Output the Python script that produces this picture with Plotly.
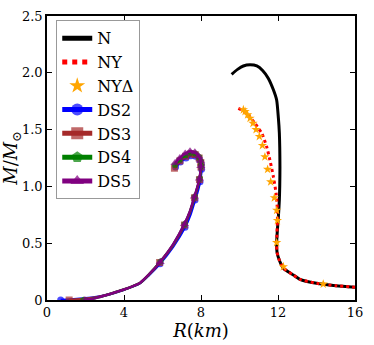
import plotly.graph_objects as go

# N (nucleons)
R_N = [9.59, 9.9, 10.2, 10.55, 10.9, 11.2, 11.5, 11.76, 11.93, 12.02, 12.07, 12.1, 12.09, 12.07, 12.02, 11.97, 11.93, 11.95, 12.07, 12.28, 12.8, 13.14, 14.0, 15.0, 16.0]
M_N = [1.987, 2.03, 2.06, 2.07, 2.06, 2.02, 1.95, 1.85, 1.76, 1.6, 1.47, 1.17, 1.0, 0.88, 0.733, 0.62, 0.5, 0.42, 0.35, 0.28, 0.22, 0.182, 0.147, 0.126, 0.112]

# NY
R_NY = [9.94, 10.2, 10.46, 10.8, 11.15, 11.41, 11.58, 11.76, 11.9, 11.97, 11.97, 11.93, 11.95, 12.07, 12.28, 12.8, 13.14, 14.0, 15.0, 16.0]
M_NY = [1.687, 1.665, 1.63, 1.555, 1.47, 1.35, 1.232, 1.085, 0.94, 0.79, 0.70, 0.5, 0.42, 0.35, 0.28, 0.22, 0.182, 0.147, 0.126, 0.112]

# NY-Delta (markers only)
R_NYD = [10.2, 10.29, 10.42, 10.55, 10.7, 10.86, 11.03, 11.19, 11.32, 11.46, 11.62, 11.81, 11.93, 11.97, 11.93, 12.28, 14.35]
M_NYD = [1.675, 1.66, 1.63, 1.60, 1.555, 1.50, 1.44, 1.36, 1.26, 1.15, 1.04, 0.90, 0.79, 0.70, 0.505, 0.293, 0.14]

# Dark-star sequences
R_DS2 = [0.71, 2.0, 3.0, 3.96, 4.83, 5.3, 5.87, 6.56, 7.17, 7.45, 7.69, 7.85, 7.95, 8.0, 8.03, 8.02, 7.92, 7.72, 7.47, 7.22, 6.92, 6.68]
M_DS2 = [0.0, 0.015, 0.04, 0.088, 0.147, 0.22, 0.32, 0.47, 0.64, 0.75, 0.88, 0.97, 1.04, 1.10, 1.15, 1.19, 1.235, 1.265, 1.27, 1.25, 1.215, 1.17]

R_DS3 = [1.15, 2.0, 3.0, 3.96, 4.83, 5.3, 5.85, 6.54, 7.14, 7.42, 7.66, 7.82, 7.92, 7.97, 8.0, 7.99, 7.9, 7.7, 7.45, 7.2, 6.9, 6.62]
M_DS3 = [0.0, 0.01, 0.04, 0.09, 0.15, 0.225, 0.33, 0.48, 0.66, 0.77, 0.90, 0.99, 1.06, 1.12, 1.17, 1.21, 1.25, 1.28, 1.285, 1.265, 1.225, 1.16]

R_DS4 = [1.89, 2.3, 3.0, 3.96, 4.83, 5.3, 5.9, 6.56, 7.15, 7.43, 7.67, 7.83, 7.93, 7.98, 8.0, 7.99, 7.9, 7.7, 7.45, 7.2, 6.9, 6.65]
M_DS4 = [0.0, 0.008, 0.04, 0.09, 0.15, 0.225, 0.34, 0.49, 0.67, 0.78, 0.91, 1.0, 1.07, 1.13, 1.18, 1.22, 1.26, 1.29, 1.295, 1.275, 1.235, 1.19]

R_DS5 = [1.97, 2.3, 3.0, 3.96, 4.83, 5.3, 5.88, 6.55, 7.14, 7.42, 7.66, 7.82, 7.92, 7.97, 7.99, 7.98, 7.88, 7.68, 7.43, 7.18, 6.9, 6.65]
M_DS5 = [0.0, 0.008, 0.04, 0.09, 0.15, 0.225, 0.335, 0.49, 0.67, 0.78, 0.91, 1.0, 1.07, 1.13, 1.18, 1.225, 1.265, 1.30, 1.31, 1.29, 1.25, 1.205]

DS_MARK_IDX = [0, 6, 8, 10, 12, 14, 15, 16, 17, 18, 19, 20, 21]

X_TICKS = [0, 4, 8, 12, 16]
X_TICKTEXT = ["0", "4", "8", "12", "16"]
Y_TICKS = [0, 0.5, 1.0, 1.5, 2.0, 2.5]
Y_TICKTEXT = ["0", "0.5", "1.0", "1.5", "2.0", "2.5"]

FONT = "DejaVu Serif, Liberation Serif, serif"

fig = go.Figure()
fig.add_trace(go.Scatter(x=R_N, y=M_N, mode="lines", name="N",
                         line=dict(color="black", width=3, shape="spline", smoothing=0.6)))
fig.add_trace(go.Scatter(x=R_NY, y=M_NY, mode="lines", name="NY",
                         line=dict(color="red", width=3, dash="dot", shape="spline", smoothing=0.6)))
fig.add_trace(go.Scatter(x=R_NYD, y=M_NYD, mode="markers", name="NYΔ",
                         marker=dict(symbol="star", color="orange", size=7, line=dict(width=0))))


def sizes(n, s):
    return [s if i in DS_MARK_IDX else 0 for i in range(n)]


ds = [
    ("DS2", R_DS2, M_DS2, "blue", "circle", 7),
    ("DS3", R_DS3, M_DS3, "#a52a2a", "square", 7),
    ("DS4", R_DS4, M_DS4, "green", "pentagon", 7),
    ("DS5", R_DS5, M_DS5, "purple", "triangle-up", 8),
]
for name, r, m, c, sym, s in ds:
    fig.add_trace(go.Scatter(x=r, y=m, mode="lines+markers", name=name,
                             line=dict(color=c, width=2.5, shape="spline", smoothing=0.6),
                             marker=dict(symbol=sym, color=c, size=sizes(len(r), s), line=dict(width=0))))

axis_common = dict(showline=True, linecolor="black", linewidth=1.5, mirror="allticks",
                   ticks="inside", ticklen=5, tickwidth=1, tickcolor="black",
                   showgrid=False, zeroline=False, automargin=False,
                   tickfont=dict(family=FONT, size=13, color="black"))

fig.update_xaxes(range=[0, 16], tickvals=X_TICKS, ticktext=X_TICKTEXT,
                 title=dict(text="<i>R</i>(<i>km</i>)", font=dict(family=FONT, size=18, color="black"), standoff=2),
                 **axis_common)
fig.update_yaxes(range=[0, 2.5], tickvals=Y_TICKS, ticktext=Y_TICKTEXT,
                 title=dict(text="<i>M</i>/<i>M</i><sub>⊙</sub>", font=dict(family=FONT, size=18, color="black"), standoff=2),
                 **axis_common)

fig.update_layout(
    width=374, height=345,
    margin=dict(l=47, r=19, t=16, b=45),
    plot_bgcolor="white", paper_bgcolor="white",
    legend=dict(x=0.03, y=0.985, xanchor="left", yanchor="top",
                bgcolor="white", bordercolor="#999999", borderwidth=1,
                font=dict(family=FONT, size=16, color="black"),
                itemsizing="constant", tracegroupgap=0),
)

fig.write_html("out.html", config={"displayModeBar": False},
               post_script="document.body.style.margin='0';")
